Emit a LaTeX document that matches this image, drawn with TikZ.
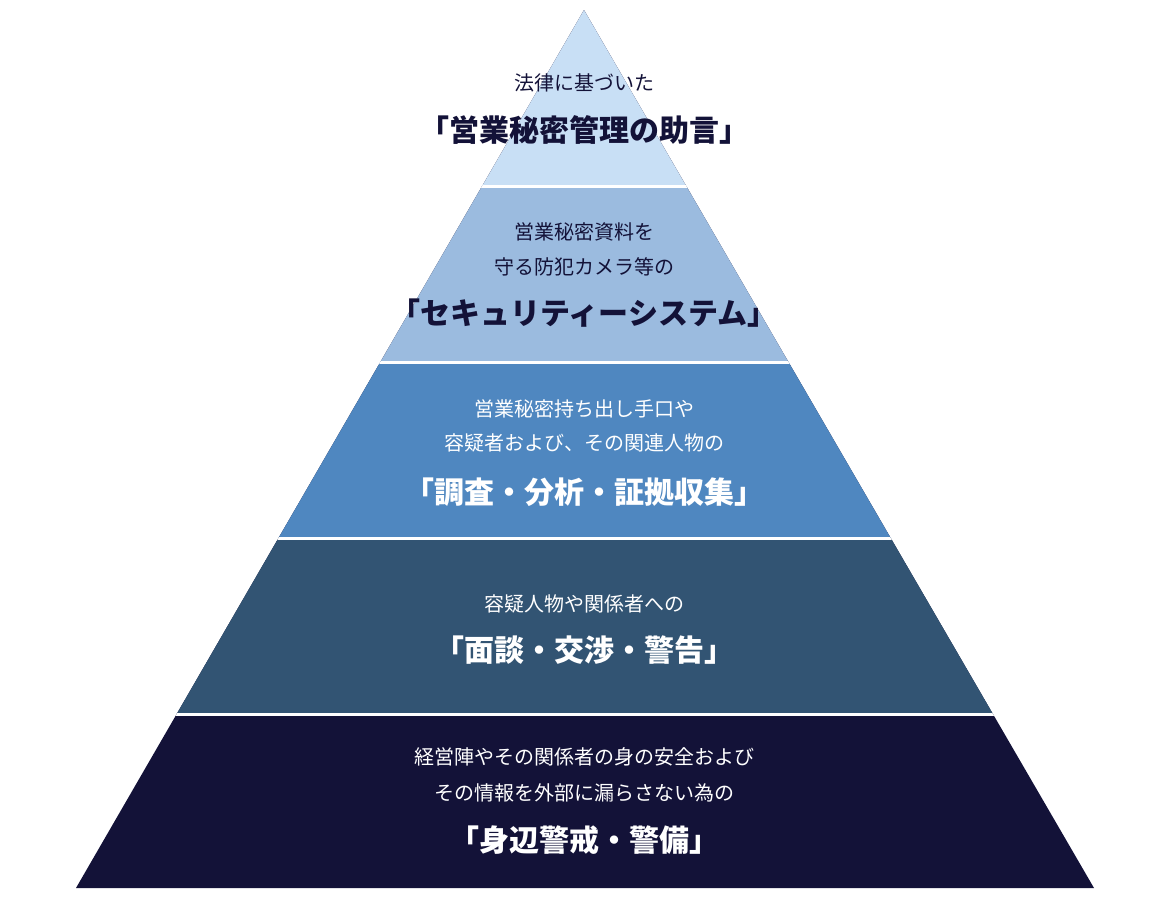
\documentclass[tikz,border=0pt]{standalone}
\usepackage{fontspec}
\newfontfamily\cjk{Noto Sans CJK JP}
\definecolor{cA}{HTML}{C8DFF5}
\definecolor{cB}{HTML}{9BBBDF}
\definecolor{cC}{HTML}{4F87C0}
\definecolor{cD}{HTML}{325473}
\definecolor{cE}{HTML}{131238}
\tikzset{sm/.style={font=\cjk\fontsize{20}{24}\selectfont, inner sep=0pt},
 bg/.style={font=\cjk\bfseries\fontsize{30}{36}\selectfont, inner sep=0pt},
 gap/.style={white, line width=3pt}}
\begin{document}
\begin{tikzpicture}[x=1pt,y=-1pt]
\useasboundingbox (0,0) rectangle (1170,900);
\fill[cE] (76,888) -- (1094,888) -- (584,10) -- cycle;
\begin{scope}
\clip (76,888) -- (1094,888) -- (584,10) -- cycle;
\fill[cA] (0,0) rectangle (1170,186);
\fill[cB] (0,186) rectangle (1170,362);
\fill[cC] (0,362) rectangle (1170,538);
\fill[cD] (0,538) rectangle (1170,714);
\draw[gap] (0,186) -- (1170,186);
\draw[gap] (0,362) -- (1170,362);
\draw[gap] (0,538) -- (1170,538);
\draw[gap] (0,714) -- (1170,714);
\end{scope}
\node[sm, text=cE] (a1) at (584,83) {法律に基づいた};
\node[bg, text=cE] (a2) at (584,130) {「営業秘密管理の助言」};
\node[sm, text=cE] (b1) at (584,232) {営業秘密資料を};
\node[sm, text=cE] (b2) at (584,267) {守る防犯カメラ等の};
\node[bg, text=cE] (b3) at (584,313) {「セキュリティーシステム」};
\node[sm, text=white] (c1) at (584,409) {営業秘密持ち出し手口や};
\node[sm, text=white] (c2) at (584,443) {容疑者および、その関連人物の};
\node[bg, text=white] (c3) at (584,492) {「調査・分析・証拠収集」};
\node[sm, text=white] (d1) at (584,604) {容疑人物や関係者への};
\node[bg, text=white] (d2) at (584,650) {「面談・交渉・警告」};
\node[sm, text=white] (e1) at (584,757) {経営陣やその関係者の身の安全および};
\node[sm, text=white] (e2) at (584,793) {その情報を外部に漏らさない為の};
\node[bg, text=white] (e3) at (584,840) {「身辺警戒・警備」};
\end{tikzpicture}
\end{document}
